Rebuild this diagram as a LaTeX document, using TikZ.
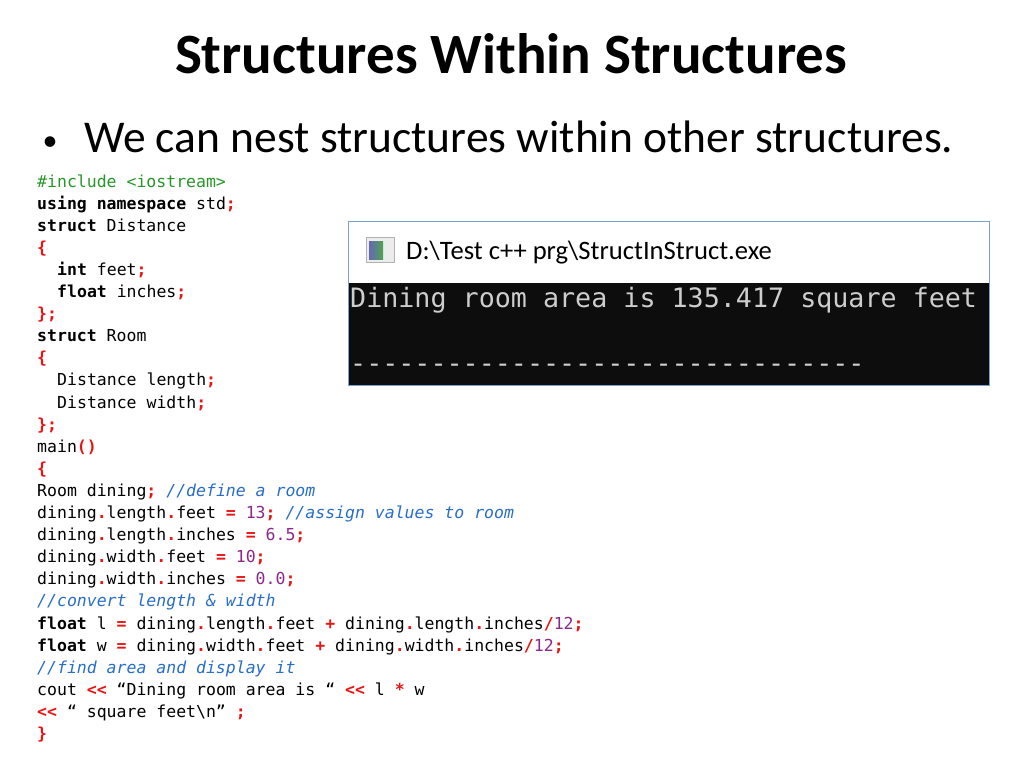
\documentclass[tikz,border=0pt]{standalone}
\usepackage{fontspec}
\setmainfont{Carlito}
\setmonofont{DejaVu Sans Mono}
\usetikzlibrary{positioning}
\definecolor{incgreen}{RGB}{40,150,40}
\definecolor{punred}{RGB}{235,20,20}
\definecolor{numpurple}{RGB}{140,40,140}
\definecolor{cmblue}{RGB}{40,110,200}
\definecolor{winborder}{RGB}{120,160,210}
\definecolor{consolegray}{RGB}{205,205,205}
\newcommand{\kw}[1]{\textbf{#1}}
\newcommand{\pn}[1]{\textcolor{punred}{\textbf{#1}}}
\newcommand{\nm}[1]{\textcolor{numpurple}{#1}}
\newcommand{\cm}[1]{\textcolor{cmblue}{\textit{#1}}}
\tikzset{%
	code/.style    = {anchor=base west, inner sep=0pt,
		font=\ttfamily\fontsize{16.5}{22}\selectfont}, % Listing line
	console/.style = {anchor=base west, inner sep=0pt, text=consolegray,
		font=\ttfamily\fontsize{26.7}{30}\selectfont}, % Console output
	window/.style  = {draw=winborder, line width=1pt, fill=white}
}

\begin{document}
\begin{tikzpicture}[x=1pt,y=-1pt]
			\useasboundingbox[fill=white] (0,0) rectangle (1024,768);
			
			\node[anchor=base, inner sep=0pt, font=\bfseries\fontsize{57}{60}\selectfont] (title) at (511,74) {Structures Within Structures};
			\node[anchor=base west, inner sep=0pt, font=\fontsize{45.5}{50}\selectfont] (bullet) at (84,152) {We can nest structures within other structures.};
			\node[anchor=base, inner sep=0pt, font=\fontsize{30}{30}\selectfont] (dot) at (50,150) {\textbullet};
			
			% listing
			\node[code] (inc)      at (37,187.0) {\textcolor{incgreen}{\#include <iostream>}};
			\node[code] (using)    at (37,209.1) {\kw{using namespace} std\pn{;}};
			\node[code] (distance) at (37,231.2) {\kw{struct} Distance};
			\node[code] (dopen)    at (37,253.3) {\pn{\{}};
			\node[code] (feet)     at (57,275.4) {\kw{int} feet\pn{;}};
			\node[code] (inches)   at (57,297.5) {\kw{float} inches\pn{;}};
			\node[code] (dclose)   at (37,319.6) {\pn{\};}};
			\node[code] (room)     at (37,341.7) {\kw{struct} Room};
			\node[code] (ropen)    at (37,363.8) {\pn{\{}};
			\node[code] (length)   at (57,385.9) {Distance length\pn{;}};
			\node[code] (width)    at (57,408.0) {Distance width\pn{;}};
			\node[code] (rclose)   at (37,430.1) {\pn{\};}};
			\node[code] (main)     at (37,452.2) {main\pn{()}};
			\node[code] (mopen)    at (37,474.3) {\pn{\{}};
			\node[code] (dining)   at (37,496.4) {Room dining\pn{;} \cm{//define a room}};
			\node[code] (setlf)    at (37,518.5) {dining\pn{.}length\pn{.}feet \pn{=} \nm{13}\pn{;} \cm{//assign values to room}};
			\node[code] (setli)    at (37,540.6) {dining\pn{.}length\pn{.}inches \pn{=} \nm{6.5}\pn{;}};
			\node[code] (setwf)    at (37,562.7) {dining\pn{.}width\pn{.}feet \pn{=} \nm{10}\pn{;}};
			\node[code] (setwi)    at (37,584.8) {dining\pn{.}width\pn{.}inches \pn{=} \nm{0.0}\pn{;}};
			\node[code] (convert)  at (37,606.9) {\cm{//convert length \& width}};
			\node[code] (floatl)   at (37,629.0) {\kw{float} l \pn{=} dining\pn{.}length\pn{.}feet \pn{+} dining\pn{.}length\pn{.}inches\pn{/}\nm{12}\pn{;}};
			\node[code] (floatw)   at (37,651.1) {\kw{float} w \pn{=} dining\pn{.}width\pn{.}feet \pn{+} dining\pn{.}width\pn{.}inches\pn{/}\nm{12}\pn{;}};
			\node[code] (find)     at (37,673.2) {\cm{//find area and display it}};
			\node[code] (cout)     at (37,695.3) {cout \pn{<<} “Dining room area is “ \pn{<<} l \pn{*} w};
			\node[code] (coutend)  at (37,717.4) {\pn{<<} “ square feet\textbackslash n” \pn{;}};
			\node[code] (mclose)   at (37,739.5) {\pn{\}}};
			
			% console window
			\draw[window] (348,221) rectangle (989,385);
			\fill[black!95] (348.5,283) rectangle (988.5,384.5);
			\draw[gray!60, fill=gray!15] (366,237) rectangle (394,262);
			\shade[left color=blue!55!black!60, right color=green!50!black!70] (369,241) rectangle (383,259);
			\node[anchor=base west, inner sep=0pt, font=\fontsize{26.6}{28}\selectfont] (exe) at (406,259) {D:\textbackslash Test c++ prg\textbackslash StructInStruct.exe};
			\node[console] (output) at (350,307) {Dining room area is 135.417 square feet};
			\node[console] (dashes) at (350,372) {-{}-{}-{}-{}-{}-{}-{}-{}-{}-{}-{}-{}-{}-{}-{}-{}-{}-{}-{}-{}-{}-{}-{}-{}-{}-{}-{}-{}-{}-{}-{}-{}};
		\end{tikzpicture}
\end{document}
